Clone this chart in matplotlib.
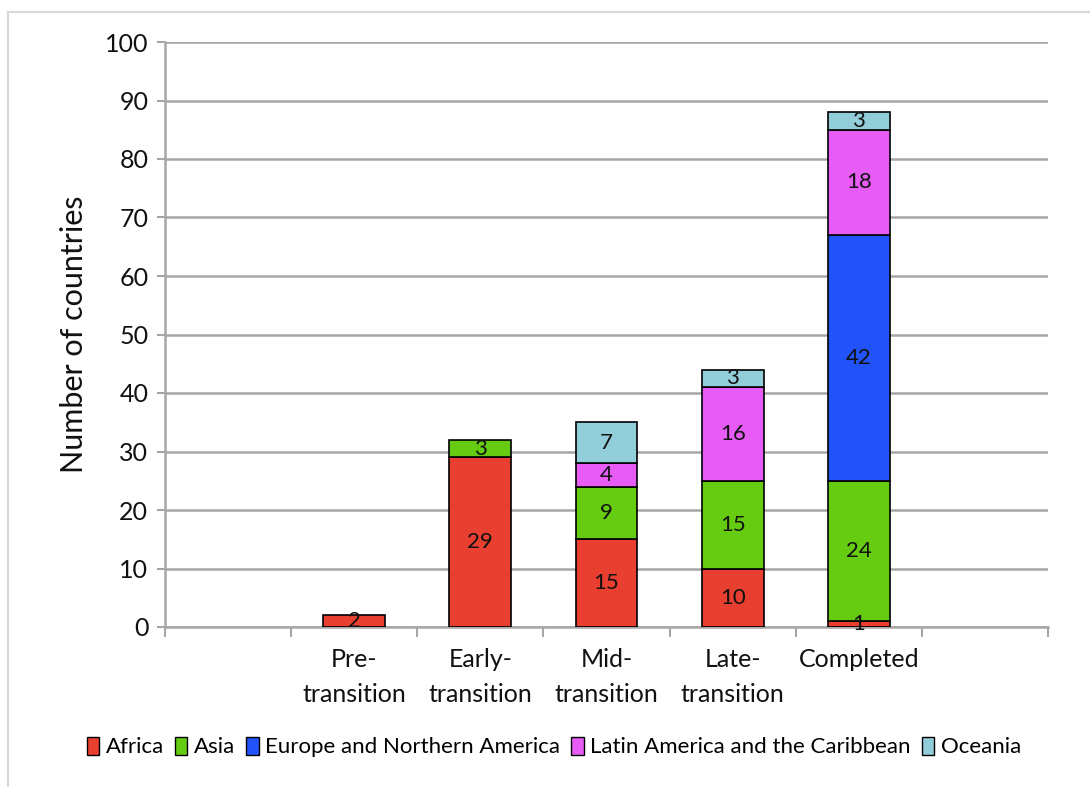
import matplotlib
matplotlib.use("Agg")
import matplotlib.pyplot as plt
from matplotlib.patches import Patch
from matplotlib.lines import Line2D
import numpy as np

plt.rcParams['font.family'] = ['Lato', 'DejaVu Sans']

# Slot layout: empty slot on each side of the five stages
stages = ["Pre-\ntransition", "Early-\ntransition", "Mid-\ntransition",
          "Late-\ntransition", "Completed"]
regions = ["Africa", "Asia", "Europe and Northern America",
           "Latin America and the Caribbean", "Oceania"]

africa = [2, 29, 15, 10, 1]
asia = [0, 3, 9, 15, 24]
europe_na = [0, 0, 0, 0, 42]
latin_am = [0, 0, 4, 16, 18]
oceania = [0, 0, 7, 3, 3]

colors = ["#E83F31", "#66CC12", "#2253FA", "#E65CF4", "#92CDDA"]

series = [africa, asia, europe_na, latin_am, oceania]

fig = plt.figure(figsize=(10.9, 7.87), dpi=100)
ax = fig.add_axes([165 / 1090, 1 - 627 / 787, (1048 - 165) / 1090, (627 - 42) / 787])

x = np.arange(1, len(stages) + 1)
bottom = np.zeros(len(stages))
grid_col = "#A6A6A6"

for vals, col in zip(series, colors):
    vals = np.array(vals, dtype=float)
    mask = vals > 0
    ax.bar(x[mask], vals[mask], width=0.49, bottom=bottom[mask], color=col,
           edgecolor="black", linewidth=1.2, zorder=3)
    for xi, b, v in zip(x[mask], bottom[mask], vals[mask]):
        ax.text(xi, b + v / 2, f"{int(v)}", ha="center", va="center",
                fontsize=16, color="#111111", zorder=4)
    bottom += vals

ax.set_xlim(-0.5, 6.5)
ax.set_ylim(0, 100)
ax.set_yticks(np.arange(0, 101, 10))
ax.set_xticks(np.arange(-0.5, 6.6, 1))
ax.set_xticklabels([])
ax.tick_params(axis="y", labelsize=18, length=6, width=1.5, color=grid_col,
               pad=6, labelcolor="#111111")
ax.tick_params(axis="x", length=7, width=1.5, color=grid_col)

ax.yaxis.grid(True, color=grid_col, linewidth=1.8, zorder=0)
ax.set_axisbelow(True)
for side in ["top", "right"]:
    ax.spines[side].set_visible(False)
for side in ["left", "bottom"]:
    ax.spines[side].set_color(grid_col)
    ax.spines[side].set_linewidth(1.8)

# Stage names under each bar
for xi, name in zip(x, stages):
    ax.text(xi, -3.6, name, ha="center", va="top", fontsize=18,
            color="#111111", linespacing=1.65,
            transform=ax.transData, clip_on=False)

ax.set_ylabel("Number of countries", fontsize=22, color="#111111", labelpad=12)

handles = [Patch(facecolor=c, edgecolor="black", linewidth=1.0) for c in colors]
fig.legend(handles, regions, loc="center", bbox_to_anchor=(554 / 1090, 1 - 747 / 787),
           ncol=5, frameon=False, fontsize=16, handlelength=0.55, handleheight=0.9,
           handletextpad=0.3, columnspacing=0.5)

# Light frame around the chart area
fig.add_artist(Line2D([8 / 1090, 1.0], [1 - 12 / 787] * 2, color="#D9D9D9", linewidth=1.5))
fig.add_artist(Line2D([8 / 1090] * 2, [0.0, 1 - 12 / 787], color="#D9D9D9", linewidth=1.5))

fig.savefig("out.png", dpi=100, facecolor="white")
